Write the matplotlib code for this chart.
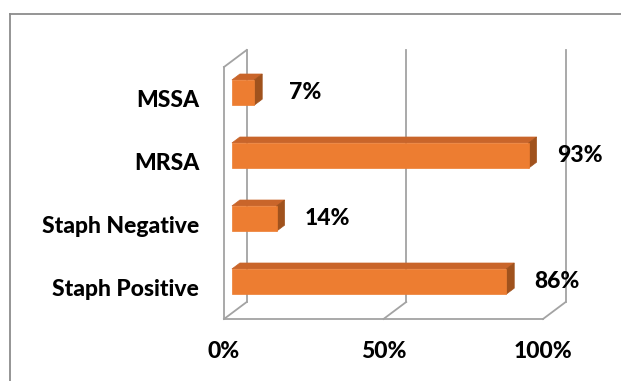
import matplotlib
matplotlib.use("Agg")
import matplotlib.pyplot as plt
from matplotlib.patches import Polygon
from matplotlib.lines import Line2D

# Share of isolates per group
categories = ["Staph Positive", "Staph Negative", "MRSA", "MSSA"]
values = [86, 14, 93, 7]
x_ticks = [0, 50, 100]
x_tick_labels = ["0%", "50%", "100%"]

plt.rcParams["font.family"] = ["Lato", "DejaVu Sans"]
FS = 16.5
FW = "black"

W, H = 621, 381
fig = plt.figure(figsize=(W / 100, H / 100), dpi=100)
# front plane of the 3D box, in pixels
left_px, right_px, top_px, bottom_px = 224, 543, 67, 319
ax = fig.add_axes([left_px / W, 1 - bottom_px / H,
                   (right_px - left_px) / W, (bottom_px - top_px) / H])
ax.set_xlim(0, 100)
ax.set_ylim(-0.5, 3.5)
for s in ax.spines.values():
    s.set_visible(False)

# oblique depth of the box (x in %, y in category units)
DX = 22.7 / (right_px - left_px) * 100
DY = 17 / 63
grid_c = "#a3a3a3"
lw = 1.3
y0, y1 = -0.5, 3.5

def seg(xs, ys):
    ax.add_line(Line2D(xs, ys, color=grid_c, lw=lw, clip_on=False, zorder=1))

for t in x_ticks:
    seg([t + DX, t + DX], [y0 + DY, y1 + DY])
    seg([t, t + DX], [y0, y0 + DY])
seg([0, 100], [y0, y0])
seg([0, 0], [y0, y1])
seg([0, DX], [y1, y1 + DY])

# bars as oblique boxes
front_c, top_c, side_c = "#ED7D31", "#C9652A", "#A0521D"
h = 0.4
d0, d1 = 0.35, 0.7
for i, v in enumerate(values):
    yb, yt = i - h / 2, i + h / 2
    ox0, oy0 = d0 * DX, d0 * DY
    ox1, oy1 = d1 * DX, d1 * DY
    front = [(ox0, yb + oy0), (v + ox0, yb + oy0), (v + ox0, yt + oy0), (ox0, yt + oy0)]
    top = [(ox0, yt + oy0), (v + ox0, yt + oy0), (v + ox1, yt + oy1), (ox1, yt + oy1)]
    side = [(v + ox0, yb + oy0), (v + ox1, yb + oy1), (v + ox1, yt + oy1), (v + ox0, yt + oy0)]
    for pts, c in [(top, top_c), (side, side_c), (front, front_c)]:
        ax.add_patch(Polygon(pts, closed=True, facecolor=c, edgecolor=c,
                             lw=0.5, clip_on=False, zorder=3))
    ax.annotate(f"{v}%", xy=(v + ox1, i + oy0), xytext=(31, 0),
                textcoords="offset points", ha="center", va="center",
                fontsize=FS, fontweight=FW, color="black",
                annotation_clip=False, zorder=4)

ax.set_xticks(x_ticks)
ax.set_xticklabels(x_tick_labels, fontsize=FS, fontweight=FW)
ax.set_yticks(range(len(categories)))
ax.set_yticklabels(categories, fontsize=FS, fontweight=FW)
ax.tick_params(axis="x", length=0, pad=16)
ax.tick_params(axis="y", length=0, pad=18)

# outer chart frame (runs off the right and bottom edges)
fx, fy = 9.5 / W, 1 - 14.3 / H
fig.add_artist(Line2D([fx, 1], [fy, fy], transform=fig.transFigure, color="#8c8c8c", lw=1.3))
fig.add_artist(Line2D([fx, fx], [0, fy], transform=fig.transFigure, color="#8c8c8c", lw=1.3))

fig.savefig("out.png", dpi=100)
